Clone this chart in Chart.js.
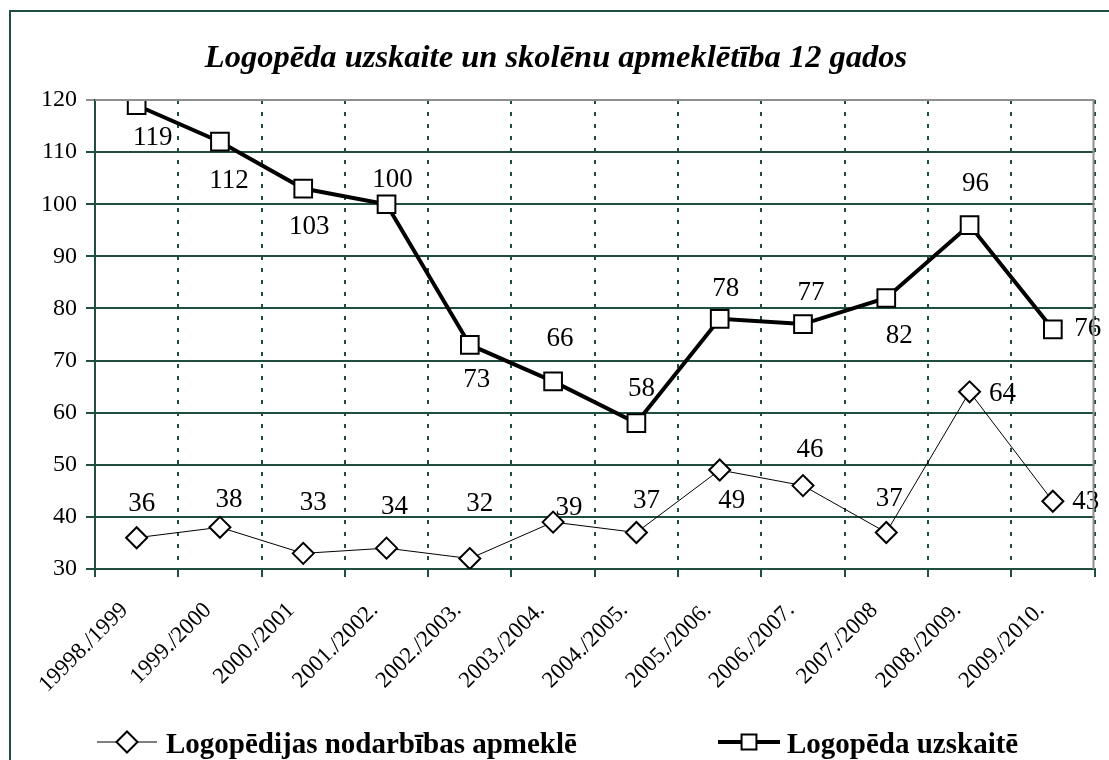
<!DOCTYPE html>
<html>
<head>
<meta charset="utf-8">
<script src="https://cdn.jsdelivr.net/npm/chart.js@4.4.1/dist/chart.umd.min.js"></script>
<style>
  html, body { margin: 0; padding: 0; background: #fff; }
  #wrap { width: 1109px; height: 760px; }
</style>
</head>
<body>
<div id="wrap"><canvas id="chart" width="1109" height="760"></canvas></div>
<script>
// Dati
const TITLE = 'Logopēda uzskaite un skolēnu apmeklētība 12 gados';
const YEARS = ['19998./1999', '1999./2000', '2000./2001', '2001./2002.', '2002./2003.', '2003./2004.',
               '2004./2005.', '2005./2006.', '2006./2007.', '2007./2008', '2008./2009.', '2009./2010.'];
const VISITS_LABEL = 'Logopēdijas nodarbības apmeklē';
const VISITS = [36, 38, 33, 34, 32, 39, 37, 49, 46, 37, 64, 43];
const REGISTERED_LABEL = 'Logopēda uzskaitē';
const REGISTERED = [119, 112, 103, 100, 73, 66, 58, 78, 77, 82, 96, 76];
const Y_TICKS = [30, 40, 50, 60, 70, 80, 90, 100, 110, 120];

// kur likt vērtību uzrakstus attiecībā pret punktu (dx, dy)
const VISITS_LABEL_POS = [[5, -34], [9, -27], [10, -50], [8, -41], [10, -55], [16, -14],
                          [10, -32], [12, 31], [7, -36], [3, -34], [33, 2], [33, 1]];
const REGISTERED_LABEL_POS = [[16, 33], [9, 39], [6, 38], [6, -24], [7, 35], [7, -42],
                              [5, -34], [6, -30], [8, -31], [13, 38], [6, -41], [35, 0]];

const GREEN = '#1f4e3d';
const GRAY = '#8f8f8f';
const FONT = "'Liberation Serif', 'Times New Roman', serif";

Chart.defaults.font.family = FONT;
Chart.defaults.color = '#000';

// fons, ārējais rāmis, virsraksts
const framePlugin = {
    id: 'frame',
    beforeDraw: (chart) => {
        const ctx = chart.ctx;
        ctx.save();
        ctx.fillStyle = '#fff';
        ctx.fillRect(0, 0, chart.width, chart.height);
        ctx.strokeStyle = GREEN;
        ctx.lineWidth = 2;
        ctx.strokeRect(10, 11, chart.width + 20, chart.height + 20);
        ctx.restore();
    },
    afterDraw: (chart) => {
        const ctx = chart.ctx;
        const a = chart.chartArea;
        ctx.save();
        // pelēkā zīmēšanas laukuma mala augšā un pa labi
        ctx.strokeStyle = GRAY;
        ctx.lineWidth = 2;
        ctx.beginPath();
        ctx.moveTo(a.left, a.top);
        ctx.lineTo(a.right - 1, a.top);
        ctx.lineTo(a.right - 1, a.bottom);
        ctx.stroke();
        ctx.fillStyle = '#000';
        ctx.font = "bold italic 32.5px " + FONT;
        ctx.textAlign = 'center';
        ctx.textBaseline = 'alphabetic';
        ctx.fillText(TITLE, 556, 67);
        ctx.restore();
    }
};

// vērtību uzraksti pie punktiem
const valueLabelsPlugin = {
    id: 'valueLabels',
    afterDatasetsDraw: (chart) => {
        const ctx = chart.ctx;
        const positions = [VISITS_LABEL_POS, REGISTERED_LABEL_POS];
        ctx.save();
        ctx.font = "27px " + FONT;
        ctx.fillStyle = '#000';
        ctx.textAlign = 'center';
        ctx.textBaseline = 'middle';
        chart.data.datasets.forEach((ds, di) => {
            const meta = chart.getDatasetMeta(di);
            meta.data.forEach((pt, i) => {
                const off = positions[di][i];
                ctx.fillText(String(ds.data[i]), pt.x + off[0], pt.y + off[1]);
            });
        });
        ctx.restore();
    }
};

// leģenda apakšā: līnija + marķieris + teksts
const legendPlugin = {
    id: 'bottomLegend',
    afterDraw: (chart) => {
        const ctx = chart.ctx;
        const items = [
            { x0: 97, x1: 157, textX: 166, ds: chart.data.datasets[0] },
            { x0: 718, x1: 780, textX: 787, ds: chart.data.datasets[1] }
        ];
        const y = 742;
        ctx.save();
        items.forEach(it => {
            const ds = it.ds;
            ctx.strokeStyle = ds.borderColor;
            ctx.lineWidth = ds.borderWidth;
            ctx.beginPath();
            ctx.moveTo(it.x0, y);
            ctx.lineTo(it.x1, y);
            ctx.stroke();
            ctx.fillStyle = '#fff';
            ctx.strokeStyle = '#000';
            ctx.lineWidth = 2;
            Chart.helpers.drawPoint(ctx, {
                pointStyle: ds.pointStyle,
                radius: ds.pointStyle === 'rect' ? 10.5 : ds.pointRadius,
                borderWidth: 2
            }, (it.x0 + it.x1) / 2, y);
            ctx.fillStyle = '#000';
            ctx.font = "bold 29px " + FONT;
            ctx.textAlign = 'left';
            ctx.textBaseline = 'alphabetic';
            ctx.fillText(ds.label, it.textX, y + 11);
        });
        ctx.restore();
    }
};

const ctx = document.getElementById('chart').getContext('2d');

new Chart(ctx, {
    type: 'line',
    data: {
        labels: YEARS,
        datasets: [
            {
                label: VISITS_LABEL,
                data: VISITS,
                borderColor: '#000',
                borderWidth: 1,
                pointStyle: 'rectRot',
                pointRadius: 10.5,
                pointBackgroundColor: '#fff',
                pointBorderColor: '#000',
                pointBorderWidth: 2,
                tension: 0,
                fill: false
            },
            {
                label: REGISTERED_LABEL,
                data: REGISTERED,
                borderColor: '#000',
                borderWidth: 4,
                pointStyle: 'rect',
                pointRadius: 12.5,
                pointBackgroundColor: '#fff',
                pointBorderColor: '#000',
                pointBorderWidth: 2,
                tension: 0,
                fill: false
            }
        ]
    },
    options: {
        responsive: false,
        animation: false,
        layout: { padding: { top: 100, right: 12, bottom: 0, left: 0 } },
        plugins: {
            legend: { display: false },
            title: { display: false },
            tooltip: { enabled: false }
        },
        scales: {
            x: {
                offset: true,
                afterFit: (scale) => { scale.height = 191; },
                grid: {
                    offset: true,
                    color: GREEN,
                    lineWidth: 2,
                    tickLength: 8,
                    tickBorderDash: []
                },
                border: { display: true, color: GREEN, width: 2, dash: [4, 8] },
                ticks: {
                    autoSkip: false,
                    minRotation: 45,
                    maxRotation: 45,
                    padding: 20,
                    labelOffset: -12,
                    color: '#000',
                    font: { size: 23, family: FONT }
                }
            },
            y: {
                min: Y_TICKS[0],
                max: Y_TICKS[Y_TICKS.length - 1],
                afterFit: (scale) => { scale.width = 95; },
                afterBuildTicks: (scale) => { scale.ticks = Y_TICKS.map(v => ({ value: v })); },
                grid: {
                    color: (c) => (c.tick && c.tick.value === Y_TICKS[Y_TICKS.length - 1]) ? GRAY : GREEN,
                    lineWidth: 2,
                    tickLength: 9
                },
                border: { display: true, color: GREEN, width: 2 },
                ticks: {
                    padding: 9,
                    color: '#000',
                    font: { size: 24, family: FONT }
                }
            }
        }
    },
    plugins: [framePlugin, valueLabelsPlugin, legendPlugin]
});
</script>
</body>
</html>
